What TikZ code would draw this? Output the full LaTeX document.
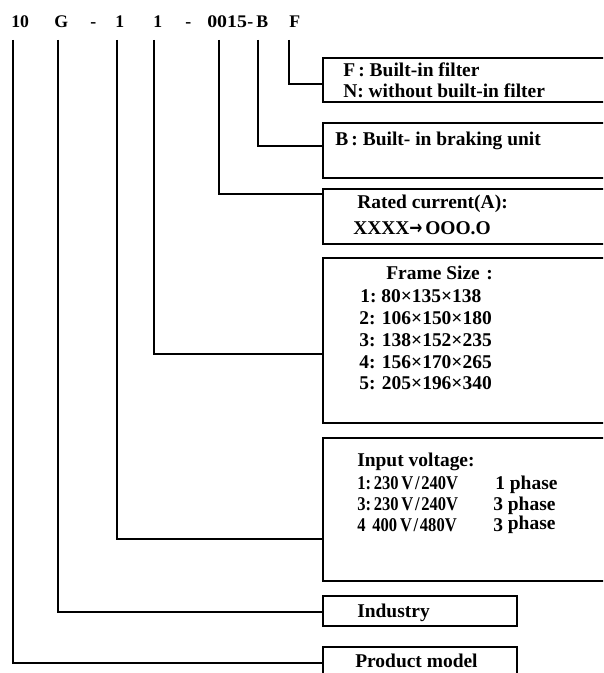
\documentclass[tikz,border=0pt]{standalone}
\usepackage{fontspec}
\setmainfont{Liberation Serif}
\newfontfamily\djvsans{DejaVu Sans}
\usetikzlibrary{calc}
\begin{document}
\begin{tikzpicture}[x=0.75pt,y=-0.75pt,
  lbl/.style={anchor=base west, inner sep=0pt, font=\bfseries\fontsize{14.6}{16}\selectfont},
  hdr/.style={anchor=base west, inner sep=0pt, font=\bfseries\fontsize{13.3}{16}\selectfont},
  box/.style={draw, line width=1.4pt, anchor=north west, inner sep=0pt, outer sep=0pt},
  conn/.style={line width=1.2pt}]
\useasboundingbox (0,0) rectangle (603,673);
\clip (0,0) rectangle (603,673);
% header
\node[hdr] (h10) at (11,28) {10};
\node[hdr] (hG) at (54,28) {G};
\node[hdr] (hda) at (90,28) {-};
\node[hdr] (h1a) at (115,28) {1};
\node[hdr] (h1b) at (153,28) {1};
\node[hdr] (hdb) at (185,28) {-};
\node[hdr] (h0015) at (207,28) {\scalebox{1.12}[1]{0015}};
\node[hdr] (hdc) at (247,28) {-};
\node[hdr] (hB) at (256,28) {B};
\node[hdr] (hF) at (289,28) {F};
% tops of the connectors
\coordinate (tP) at (13,40);
\coordinate (tI) at (58,40);
\coordinate (tV) at (117,40);
\coordinate (tS) at (154,40);
\coordinate (tR) at (219,40);
\coordinate (tB) at (258,40);
\coordinate (tF) at (289,40);
% boxes
\node[box, minimum width=297*0.75pt, minimum height=44*0.75pt] (fbox) at (323,58) {};
\node[box, minimum width=297*0.75pt, minimum height=55*0.75pt] (bbox) at (323,123) {};
\node[box, minimum width=297*0.75pt, minimum height=55*0.75pt] (rbox) at (323,189) {};
\node[box, minimum width=297*0.75pt, minimum height=165*0.75pt] (sbox) at (323,258) {};
\node[box, minimum width=297*0.75pt, minimum height=143*0.75pt] (vbox) at (323,438) {};
\node[box, minimum width=194*0.75pt, minimum height=30*0.75pt] (ibox) at (323,596) {};
\node[box, minimum width=194*0.75pt, minimum height=50*0.75pt] (pbox) at (323,647) {};
% connectors
\draw[conn] (tF) |- ($(fbox.north west)+(0,26)$);
\draw[conn] (tB) |- ($(bbox.north west)+(0,23)$);
\draw[conn] (tR) |- ($(rbox.north west)+(0,5)$);
\draw[conn] (tS) |- ($(sbox.north west)+(0,96)$);
\draw[conn] (tV) |- ($(vbox.north west)+(0,101)$);
\draw[conn] (tI) |- ($(ibox.north west)+(0,16)$);
\draw[conn] (tP) |- ($(pbox.north west)+(0,16)$);
% texts
\node[lbl] (f1) at (343,77) {F\,: Built-in filter};
\node[lbl] (f2) at (343,98) {N: without built-in filter};
\node[lbl] (b1) at (335,146) {B\,: Built- in braking unit};
\node[lbl] (r1) at (357,209) {Rated current(A):};
\node[lbl] (r2) at (353,234) {XXXX};
\node[lbl] (r3) at (409,234) {\djvsans\bfseries\scalebox{0.8}[1]{→}};
\node[lbl] (r4) at (425,234) {OOO.O};
\node[lbl] (s0) at (386,279) {Frame Size\,\,:};
\node[lbl] (s1) at (360,302) {1:\ 80×135×138};
\node[lbl] (s2) at (359,324) {2: 106×150×180};
\node[lbl] (s3) at (359,346) {3: 138×152×235};
\node[lbl] (s4) at (359,368) {4: 156×170×265};
\node[lbl] (s5) at (359,389) {5: 205×196×340};
\node[lbl] (v0) at (357,466) {Input voltage:};
\node[lbl] (v1a) at (357,489) {\scalebox{0.85}[1]{1:\,230\,V\kern1.5pt/\kern1.5pt240V}};
\node[lbl] (v1c) at (495,489) {1 phase};
\node[lbl] (v2a) at (357,510) {\scalebox{0.85}[1]{3:\,230\,V\kern1.5pt/\kern1.5pt240V}};
\node[lbl] (v2c) at (493,510) {3 phase};
\node[lbl] (v3a) at (357,531) {\scalebox{0.85}[1]{4\ \,400\,V\kern1.5pt/\kern1.5pt480V}};
\node[lbl] (v3c) at (493,531) {3 \raisebox{1.5pt}{phase}};
\node[lbl] (i1) at (357,617) {Industry};
\node[lbl] (p1) at (355,667) {Product model};
\end{tikzpicture}
\end{document}
